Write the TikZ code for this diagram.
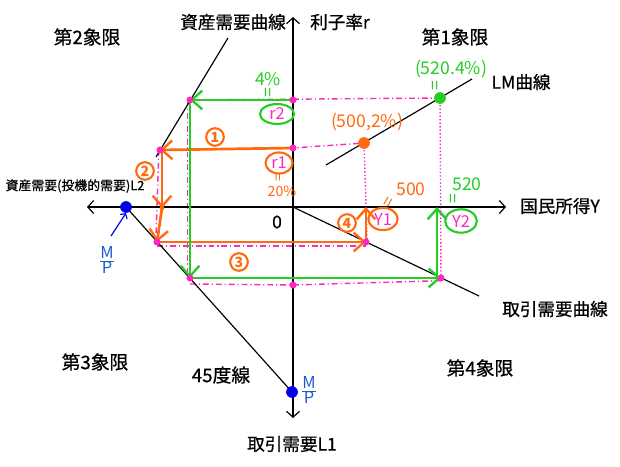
\documentclass[tikz,border=0pt]{standalone}
\usepackage{fontspec}
\setmainfont{Noto Sans CJK JP}
\newfontfamily\lblfont{Noto Sans CJK JP}[FakeBold=0.6]
\usetikzlibrary{arrows.meta,positioning,shapes.geometric}
\definecolor{orgline}{RGB}{255,105,15}
\definecolor{grnline}{RGB}{35,205,35}
\definecolor{pnk}{RGB}{255,40,190}
\definecolor{dotblue}{RGB}{0,0,230}
\definecolor{txtblue}{RGB}{30,90,210}

\begin{document}
\begin{tikzpicture}[x=0.3mm, y=-0.3mm,
axis/.style={-{Straight Barb[length=5pt,width=11pt]}, line width=1pt},
curve/.style={line width=1pt},
ora/.style={draw=orgline, line width=2.3pt, -{Straight Barb[length=9pt,width=16pt,line width=2pt]}},
gre/.style={draw=grnline, line width=2.3pt, -{Straight Barb[length=9pt,width=16pt,line width=2pt]}},
pdash/.style={draw=pnk, line width=1.2pt, dash pattern=on 5pt off 2.5pt on 1pt off 2.5pt},
pdot/.style={draw=pnk, line width=1.2pt, dash pattern=on 1.2pt off 1.8pt},
pt/.style={circle, fill=pnk, inner sep=0pt, minimum size=6pt},
bigpt/.style={circle, inner sep=0pt, minimum size=10pt},
lbl/.style={font=\lblfont\fontsize{15}{17}\selectfont, inner sep=1pt},
quad/.style={font=\lblfont\fontsize{16}{18}\selectfont, inner sep=1pt},
hand/.style={font=\fontsize{15}{16}\selectfont, inner sep=0pt},
num/.style={circle, draw=orgline, line width=1.8pt, text=orgline, inner sep=0pt, minimum size=15pt, font=\fontsize{12}{12}\selectfont\bfseries},
tag/.style={ellipse, line width=1.8pt, text=pnk, inner sep=0pt, font=\fontsize{14}{14}\selectfont}
]
\useasboundingbox (0,0) rectangle (620,467);

% axes and curves
\coordinate (O) at (293,207);
\coordinate (rtop) at (293,17);
\coordinate (ybot) at (293,418);
\coordinate (xl) at (87,207);
\coordinate (xr) at (506,207);
\coordinate (ad1) at (156,157);
\coordinate (ad2) at (228,38);
\coordinate (td2) at (479,296);
\coordinate (mpx) at (126,207);
\coordinate (mpy) at (292,392);
\coordinate (lm1) at (326,165);
\coordinate (lm2) at (472,79);

% points of the two paths
\coordinate (r1) at (293,148);
\coordinate (r2) at (293,100);
\coordinate (p1) at (160,150);
\coordinate (p2) at (190,100);
\coordinate (q1) at (157,242);
\coordinate (q2) at (190,278);
\coordinate (s1) at (366,242);
\coordinate (s2) at (441,278);
\coordinate (A1) at (364,143);
\coordinate (A2) at (440,98);
\coordinate (o2a) at (162,152);
\coordinate (o2b) at (162,208);
\coordinate (Y1) at (366,207);
\coordinate (g4a) at (437,278);
\coordinate (Y2) at (437,207);
\coordinate (rlow) at (293,285);

% pink guide lines
\draw[pdash] (p2) -- (A2);
\draw[pdash] (p1) -- (r1) -- (A1);
\draw[pdot] (A1) -- ([xshift=1pt]s1);
\draw[pdot] (A2) -- (s2);
\draw[pdash] ([xshift=-1pt]p1) -- ([xshift=-1pt]q1);
\draw[pdash] ([xshift=-2pt]p2) -- ([xshift=-2pt]q2);
\draw[pdash] ([yshift=-1.2mm]q1) -- ([yshift=-1.2mm]s1);
\draw[pdash] ([yshift=-1.8mm]q2) -- (rlow) -- ([yshift=-0.8mm]s2);

\draw[axis] (O) -- (rtop);
\draw[axis] (O) -- (ybot);
\draw[axis] (O) -- (xl);
\draw[axis] (O) -- (xr);
\draw[curve] (ad1) -- (ad2);
\draw[curve] (O) -- (td2);
\draw[curve] (mpx) -- (mpy);
\draw[curve] (lm1) -- (lm2);

% orange path
\draw[ora] (r1) -- (p1);
\draw[ora] (o2a) -- (o2b);
\draw[ora] (o2b) -- (q1);
\draw[ora] (q1) -- (s1);
\draw[ora] (s1) -- (Y1);
% green path
\draw[gre] (r2) -- (p2);
\draw[gre] (p2) -- (q2);
\draw[gre] (q2) -- (s2);
\draw[gre] (g4a) -- (Y2);

% dots
\foreach \p in {r1,r2,p1,p2,q1,q2,s1,s2,rlow}
  \node[pt] at (\p) {};
\node[circle, fill=orgline, inner sep=0pt, minimum size=4pt] at (o2b) {};
\node[bigpt, fill=orgline] (dA1) at (A1) {};
\node[bigpt, fill=grnline] (dA2) at (A2) {};
\node[bigpt, fill=dotblue] (dmpx) at (mpx) {};
\node[bigpt, fill=dotblue] (dmpy) at (mpy) {};

% labels
\node[quad] (quad2) at (87,37) {第2象限};
\node[lbl] (adlbl) at (233,22) {資産需要曲線};
\node[lbl] (rlbl) at (340,22) {利子率r};
\node[quad] (quad1) at (455,37) {第1象限};
\node[lbl] (lmlbl) at (521,82) {LM曲線};
\node[lbl, font=\lblfont\fontsize{11}{12}\selectfont] (l2lbl) at (75,186) {資産需要(投機的需要)L2};
\node[lbl] (olbl) at (277,222) {0};
\node[lbl] (ylbl) at (560,206) {国民所得Y};
\node[lbl] (tdlbl) at (555,309) {取引需要曲線};
\node[quad] (quad3) at (95,362) {第3象限};
\node[quad] (d45) at (221,375) {45度線};
\node[quad] (quad4) at (480,368) {第4象限};
\node[lbl] (l1lbl) at (292,444) {取引需要L1};

% M/P
\node[text=txtblue, inner sep=0pt, font=\fontsize{14}{14}\selectfont] (mp1) at (107,260) {$\frac{\mbox{M}}{\mbox{P}}$};
\node[text=txtblue, inner sep=0pt, font=\fontsize{14}{14}\selectfont] (mp2) at (309,390) {$\frac{\mbox{M}}{\mbox{P}}$};
\coordinate (barr) at (111,236);
\draw[draw=dotblue, line width=1pt, -{Straight Barb[length=3pt,width=7pt]}] (barr) -- (dmpx.south);

% circled steps
\node[num] (n1) at (215,137) {1};
\node[num] (n2) at (145,171) {2};
\node[num] (n3) at (239,262) {3};
\node[num] (n4) at (347,223) {4};

% tags
\node[tag, draw=grnline, minimum width=29pt, minimum height=17pt] (tr2) at (277,114) {r2};
\node[tag, draw=orgline, minimum width=23pt, minimum height=18pt] (tr1) at (279,163) {r1};
\node[tag, draw=orgline, minimum width=25pt, minimum height=19pt] (ty1) at (383,219) {Y1};
\node[tag, draw=grnline, minimum width=27pt, minimum height=20pt] (ty2) at (461,221) {Y2};

% handwritten values
\node[hand, text=grnline] (v4) at (268,79) {4\%};
\node[hand, text=grnline, rotate=90] (e4) at (270,93) {=};
\node[hand, text=orgline, rotate=90, font=\fontsize{12}{12}\selectfont] (e20) at (280,178) {=};
\node[hand, text=orgline, font=\fontsize{12}{12}\selectfont] (v20) at (282,191) {20\%};
\node[hand, text=grnline] (v52) at (451,69) {(520.4\%)};
\node[hand, text=grnline, rotate=90] (e52) at (437,86) {=};
\node[hand, text=orgline] (v50) at (367,122) {(500,2\%)};
\node[hand, text=orgline] (v500) at (411,189) {500};
\node[hand, text=orgline, rotate=60] (e500) at (390,203) {=};
\node[hand, text=grnline] (v520) at (467,184) {520};
\node[hand, text=grnline, rotate=90] (e520) at (455,199) {=};
\end{tikzpicture}
\end{document}
